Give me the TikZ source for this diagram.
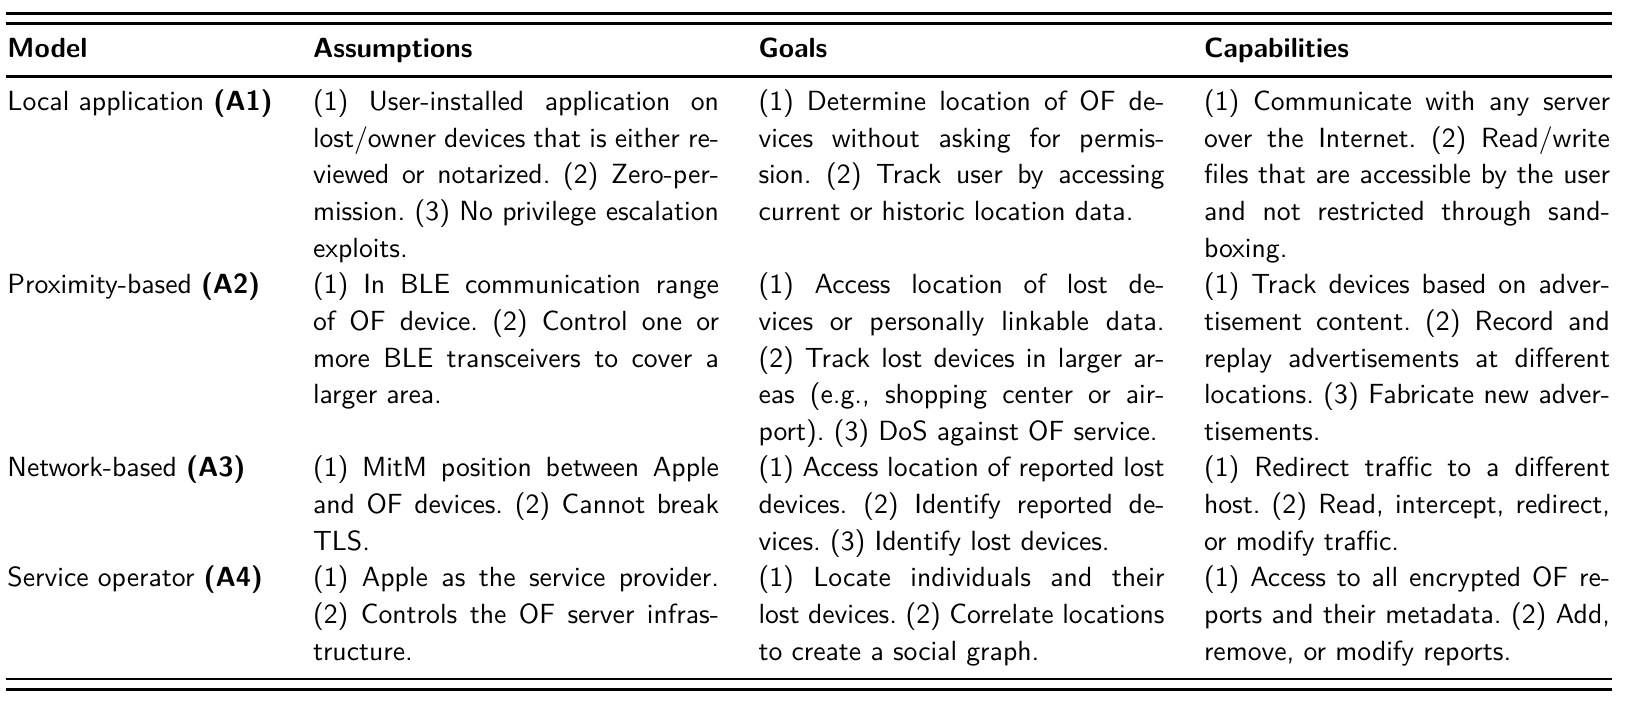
\documentclass[tikz,border=0pt]{standalone}
\usepackage{fontspec}
\frenchspacing
\newcommand\jline[1]{\hbox to\hsize{#1}}
\newcommand\lline[1]{\hbox to\hsize{#1\hfil}}
\newcommand\cellcontent[1]{\vtop{\hsize=146.57pt\baselineskip=13.22pt\lineskiplimit=-20pt\lineskip=0pt #1}}
\tikzset{
  cellbox/.style={anchor=base west, inner sep=0pt, outer sep=0pt, font=\sffamily\fontsize{10}{13.22}\selectfont\frenchspacing},
  headbox/.style={cellbox, font=\sffamily\bfseries\fontsize{10}{13.22}\selectfont},
  rulebar/.style={line width=0.975pt, line cap=butt},
}
\begin{document}
\begin{tikzpicture}[x=0.361pt,y=-0.361pt]
\useasboundingbox (0,0) rectangle (1646,701);
% rules
\draw[rulebar] (6,13.3) -- (1612,13.3);
\draw[rulebar] (6,23.3) -- (1612,23.3);
\draw[rulebar] (6,76.7) -- (1612,76.7);
\draw[rulebar] (6,679) -- (1612,679);
\draw[rulebar] (6,689.3) -- (1612,689.3);
% header
\node[headbox] (hm) at (7.5,57) {Model};
\node[headbox] (ha) at (313,57) {Assumptions};
\node[headbox] (hg) at (758.5,57) {Goals};
\node[headbox] (hc) at (1204,57) {Capabilities};
% row 1
\node[cellbox] (m1) at (7.5,110.7) {Local application \textbf{(A1)}};
\node[cellbox] (a1) at (313,110.7) {\cellcontent{%
\jline{(1) User-installed application on}
\jline{lost/owner devices that is either re-}
\jline{viewed or notarized. (2) Zero-per-}
\jline{mission. (3) No privilege escalation}
\lline{exploits.}}};
\node[cellbox] (g1) at (758.5,110.7) {\cellcontent{%
\jline{(1) Determine location of OF de-}
\jline{vices without asking for permis-}
\jline{sion. (2) Track user by accessing}
\lline{current or historic location data.}}};
\node[cellbox] (c1) at (1204,110.7) {\cellcontent{%
\jline{(1) Communicate with any server}
\jline{over the Internet. (2) Read/write}
\jline{files that are accessible by the user}
\jline{and not restricted through sand-}
\lline{boxing.}}};
% row 2
\node[cellbox] (m2) at (7.5,293.8) {Proximity-based \textbf{(A2)}};
\node[cellbox] (a2) at (313,293.8) {\cellcontent{%
\jline{(1) In BLE communication range}
\jline{of OF device. (2) Control one or}
\jline{more BLE transceivers to cover a}
\lline{larger area.}}};
\node[cellbox] (g2) at (758.5,293.8) {\cellcontent{%
\jline{(1) Access location of lost de-}
\jline{vices or personally linkable data.}
\jline{(2) Track lost devices in larger ar-}
\jline{eas (e.g., shopping center or air-}
\lline{port). (3) DoS against OF service.}}};
\node[cellbox] (c2) at (1204,293.8) {\cellcontent{%
\jline{(1) Track devices based on adver-}
\jline{tisement content. (2) Record and}
\jline{replay advertisements at different}
\jline{locations. (3) Fabricate new adver-}
\lline{tisements.}}};
% row 3
\node[cellbox] (m3) at (7.5,476.9) {Network-based \textbf{(A3)}};
\node[cellbox] (a3) at (313,476.9) {\cellcontent{%
\jline{(1) MitM position between Apple}
\jline{and OF devices. (2) Cannot break}
\lline{TLS.}}};
\node[cellbox] (g3) at (758.5,476.9) {\cellcontent{%
\jline{(1) Access location of reported lost}
\jline{devices. (2) Identify reported de-}
\lline{vices. (3) Identify lost devices.}}};
\node[cellbox] (c3) at (1204,476.9) {\cellcontent{%
\jline{(1) Redirect traffic to a different}
\jline{host. (2) Read, intercept, redirect,}
\lline{or modify traffic.}}};
% row 4
\node[cellbox] (m4) at (7.5,586.8) {Service operator \textbf{(A4)}};
\node[cellbox] (a4) at (313,586.8) {\cellcontent{%
\jline{(1) Apple as the service provider.}
\jline{(2) Controls the OF server infras-}
\lline{tructure.}}};
\node[cellbox] (g4) at (758.5,586.8) {\cellcontent{%
\jline{(1) Locate individuals and their}
\jline{lost devices. (2) Correlate locations}
\lline{to create a social graph.}}};
\node[cellbox] (c4) at (1204,586.8) {\cellcontent{%
\jline{(1) Access to all encrypted OF re-}
\jline{ports and their metadata. (2) Add,}
\lline{remove, or modify reports.}}};
\end{tikzpicture}
\end{document}
